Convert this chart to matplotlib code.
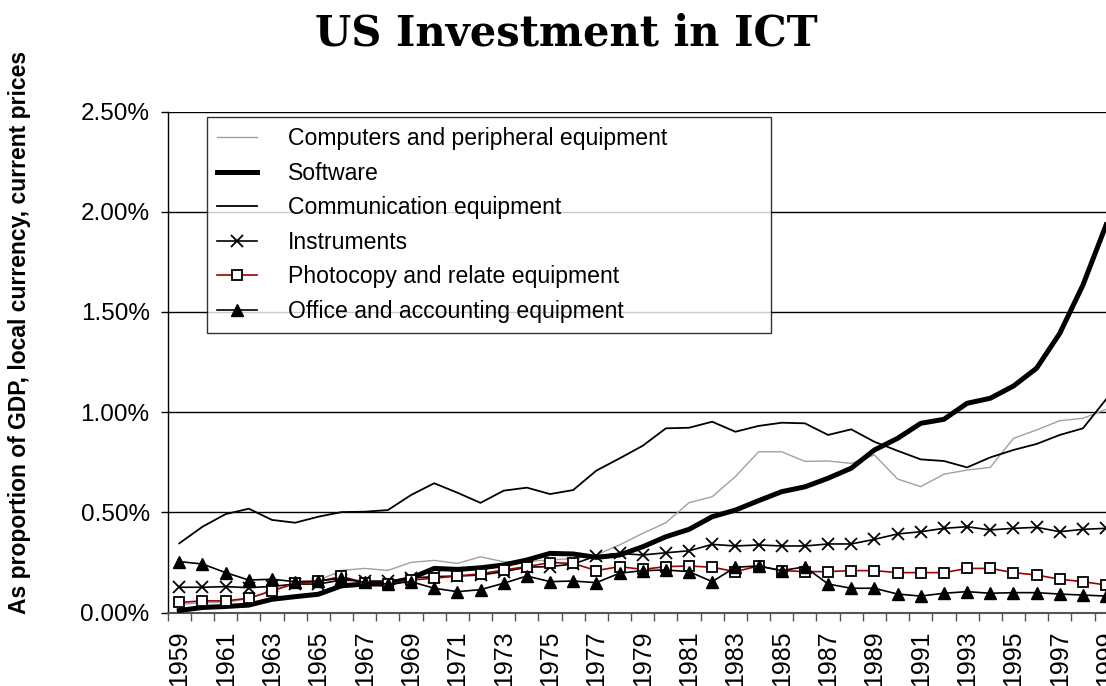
import matplotlib
matplotlib.use("Agg")
import matplotlib.pyplot as plt
from matplotlib.ticker import FuncFormatter, FixedLocator

years = list(range(1959, 2000))

computers = [0.04, 0.05, 0.05, 0.07, 0.11, 0.14, 0.16, 0.21, 0.22, 0.21,
             0.25, 0.26, 0.245, 0.278, 0.253, 0.255, 0.262, 0.27, 0.287, 0.337,
             0.395, 0.448, 0.548, 0.578, 0.678, 0.802, 0.802, 0.754, 0.756, 0.744,
             0.786, 0.666, 0.628, 0.69, 0.711, 0.724, 0.869, 0.911, 0.957, 0.969,
             1.014]
software = [0.01, 0.025, 0.03, 0.037, 0.066, 0.079, 0.091, 0.133, 0.142, 0.142,
            0.171, 0.22, 0.215, 0.223, 0.237, 0.262, 0.295, 0.292, 0.275, 0.287,
            0.328, 0.378, 0.415, 0.478, 0.511, 0.558, 0.603, 0.627, 0.670, 0.720,
            0.811, 0.869, 0.944, 0.964, 1.044, 1.069, 1.13, 1.219, 1.393, 1.634,
            1.934]
communication = [0.345, 0.428, 0.491, 0.518, 0.462, 0.448, 0.478, 0.501, 0.503, 0.511,
                 0.586, 0.645, 0.598, 0.547, 0.608, 0.623, 0.591, 0.611, 0.708, 0.769,
                 0.832, 0.919, 0.922, 0.952, 0.902, 0.931, 0.947, 0.944, 0.886, 0.914,
                 0.852, 0.807, 0.764, 0.756, 0.724, 0.774, 0.811, 0.841, 0.886, 0.919,
                 1.064]
instruments = [0.126, 0.126, 0.129, 0.124, 0.13, 0.142, 0.142, 0.162, 0.157, 0.157,
               0.172, 0.179, 0.182, 0.187, 0.204, 0.226, 0.229, 0.242, 0.282, 0.295,
               0.287, 0.298, 0.308, 0.340, 0.332, 0.337, 0.332, 0.332, 0.342, 0.342,
               0.365, 0.392, 0.403, 0.42, 0.428, 0.412, 0.42, 0.425, 0.403, 0.415,
               0.42]
photocopy = [0.05, 0.058, 0.058, 0.071, 0.108, 0.146, 0.155, 0.18, 0.149, 0.142,
             0.162, 0.171, 0.182, 0.193, 0.212, 0.229, 0.249, 0.245, 0.209, 0.229,
             0.215, 0.229, 0.232, 0.226, 0.204, 0.232, 0.209, 0.204, 0.204, 0.209,
             0.209, 0.199, 0.199, 0.199, 0.22, 0.22, 0.199, 0.187, 0.166, 0.154,
             0.137]
office = [0.254, 0.242, 0.199, 0.162, 0.166, 0.154, 0.157, 0.171, 0.15, 0.142,
          0.154, 0.121, 0.104, 0.114, 0.146, 0.182, 0.154, 0.157, 0.149, 0.196,
          0.209, 0.212, 0.204, 0.154, 0.226, 0.232, 0.209, 0.228, 0.142, 0.121,
          0.121, 0.092, 0.082, 0.096, 0.104, 0.096, 0.099, 0.099, 0.092, 0.087,
          0.082]

labels = ["Computers and peripheral equipment", "Software", "Communication equipment",
          "Instruments", "Photocopy and relate equipment", "Office and accounting equipment"]
yticks = [0.0, 0.5, 1.0, 1.5, 2.0, 2.5]

plt.rcParams['font.family'] = ['Liberation Sans', 'DejaVu Sans']

fig = plt.figure(figsize=(11.06, 6.86), dpi=100)
W, H = 1106, 686
ax_left, ax_right = 167.7, 1117.7
ax_top, ax_bot = 111.5, 612.5
ax = fig.add_axes([ax_left / W, (H - ax_bot) / H, (ax_right - ax_left) / W, (ax_bot - ax_top) / H])

x = list(range(len(years)))

ax.plot(x, computers, color='#a0a0a0', lw=1.0, label=labels[0], zorder=3)
ax.plot(x, software, color='black', lw=3.6, label=labels[1], zorder=4, solid_joinstyle='round')
ax.plot(x, communication, color='black', lw=1.3, label=labels[2], zorder=5)
ax.plot(x, instruments, color='black', lw=1.2, marker='x', markersize=9, markeredgewidth=1.3,
        label=labels[3], zorder=6)
ax.plot(x, photocopy, color='#a00000', lw=1.2, marker='s', markersize=7.5, markerfacecolor='white',
        markeredgecolor='black', markeredgewidth=1.3, label=labels[4], zorder=7)
ax.plot(x, office, color='black', lw=1.2, marker='^', markersize=9, markerfacecolor='black',
        markeredgecolor='black', label=labels[5], zorder=8)

ax.set_xlim(-0.5, len(years) - 0.5)
ax.set_ylim(0, 2.5)

# y axis
ax.set_yticks(yticks)
ax.yaxis.set_major_formatter(FuncFormatter(lambda v, p: f"{v:.2f}%"))
ax.tick_params(axis='y', direction='out', length=5, width=1, pad=8, labelsize=17.5, color='black')
ax.yaxis.grid(True, color='black', lw=1.0)
ax.set_axisbelow(True)

# x axis: ticks at category boundaries, labels every other year
ax.xaxis.set_major_locator(FixedLocator([i - 0.5 for i in range(len(years) + 1)]))
ax.xaxis.set_major_formatter(FuncFormatter(lambda v, p: ""))
ax.xaxis.set_minor_locator(FixedLocator(x[::2]))
ax.set_xticklabels([str(y) for y in years[::2]], minor=True, rotation=90)
ax.tick_params(axis='x', which='major', direction='out', length=6, width=1, color='#555555')
ax.tick_params(axis='x', which='minor', length=0, pad=13, labelsize=18)
for lab in ax.get_xticklabels(minor=True):
    lab.set_verticalalignment('top')

for s in ['top', 'right']:
    ax.spines[s].set_visible(False)
ax.spines['left'].set_color('black')
ax.spines['left'].set_linewidth(1.0)
ax.spines['bottom'].set_color('#555555')
ax.spines['bottom'].set_linewidth(1.5)

# legend box: x 207..771, top at y=117 (pixels)
lx0 = (207 - ax_left) / (ax_right - ax_left)
lx1 = (771 - ax_left) / (ax_right - ax_left)
ly_top = 1 - (117 - ax_top) / (ax_bot - ax_top)
leg = ax.legend(loc='upper left', bbox_to_anchor=(lx0, ly_top - 0.5, lx1 - lx0, 0.5),
                bbox_transform=ax.transAxes, mode='expand',
                fontsize=16.6, frameon=True, fancybox=False, borderpad=0.45,
                labelspacing=0.5, handlelength=1.7, handletextpad=1.35,
                borderaxespad=0.0)
leg.get_frame().set_edgecolor('black')
leg.get_frame().set_linewidth(1.0)
leg.set_zorder(10)

fig.text(566 / W, 1 - 34 / H, "US Investment in ICT", family='DejaVu Serif',
         weight='bold', fontsize=30, ha='center', va='center')
fig.text(20 / W, 1 - 332 / H, "As proportion of GDP, local currency, current prices",
         rotation=90, weight='bold', fontsize=16.5, ha='center', va='center')

fig.savefig("out.png", dpi=100)
